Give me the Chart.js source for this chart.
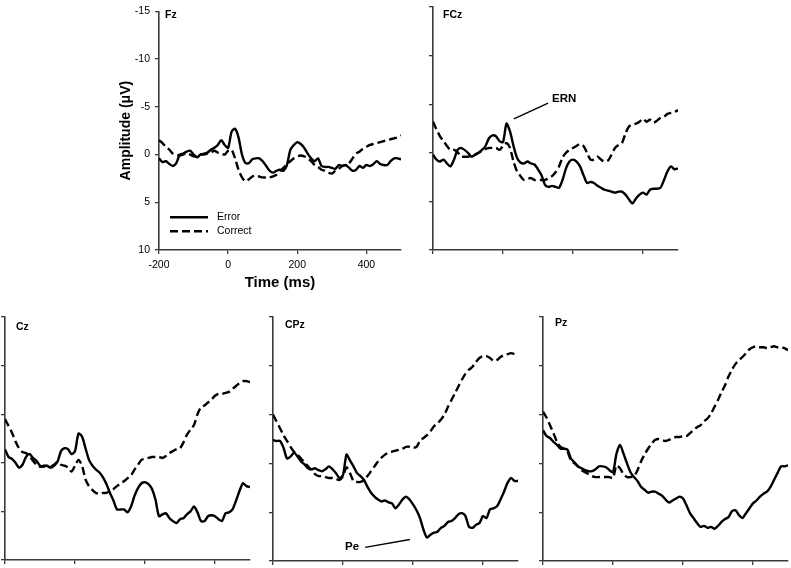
<!DOCTYPE html>
<html>
<head>
<meta charset="utf-8">
<script src="https://cdn.jsdelivr.net/npm/chart.js@4.4.1/dist/chart.umd.min.js"></script>
<style>
  html, body { margin: 0; padding: 0; background: #fff; }
  #fig { position: relative; width: 791px; height: 568px; overflow: hidden; }
  #fig canvas { position: absolute; }
</style>
</head>
<body>
<div id="fig"></div>
<script>
// ERP grand averages, -200..500 ms in 10 ms steps (amplitude in uV, negative up)
const timeMs = [];
for (let t = -200; t <= 500; t += 10) timeMs.push(t);

const xTicks = [-200, 0, 200, 400];
const yTicks = [-15, -10, -5, 0, 5, 10];
const seriesNames = ['Error', 'Correct'];

const fzError = [0.4,0.8,0.7,1.0,1.2,0.9,0,-0.1,-0.3,-0.4,
  0,0.3,0,-0.1,-0.2,-0.5,-0.7,-1.0,-1.5,-1.0,
  -0.7,-2.4,-2.7,-1.8,0,0.9,0.9,0.5,0.4,0.4,
  0.7,1.2,1.7,1.9,1.7,1.6,1.7,1.1,-0.5,-1.0,
  -1.3,-1.1,-0.7,-0.1,0.4,0.7,0.4,1.2,1.3,1.3,
  1.4,1.5,1.1,1.2,1.1,1.4,1.7,1.6,1.2,1.4,
  1.1,1.2,1.0,0.7,1.0,1.1,1.1,0.7,0.4,0.4,0.5];
const fzCorrect = [-1.5,-1.2,-0.8,-0.5,-0.1,0,0.1,0,-0.1,0,
  0.2,0.1,0,0,-0.1,-0.2,-0.4,-0.2,-0.1,0,
  -0.4,-0.5,0.4,1.6,2.4,2.8,2.6,2.3,2.2,2.3,
  2.4,2.4,2.4,2.3,2.1,1.7,1.4,1.0,0.7,0.4,
  0.2,0.1,0.2,0.4,0.7,1.1,1.3,1.6,1.7,1.9,
  2.0,1.7,1.5,1.2,1.1,0.9,0.4,-0.1,-0.3,-0.6,
  -0.8,-1.0,-1.1,-1.2,-1.3,-1.4,-1.5,-1.6,-1.7,-1.8,-2.0];

const fczError = [0.2,0.7,0.9,0.7,1.1,1.4,0.7,-0.3,-0.5,-0.3,
  0,0.4,0.2,0,-0.3,-0.7,-1.5,-1.8,-1.7,-1.2,
  -1.1,-3.0,-2.2,-0.7,0.5,1.0,1.1,0.9,1.1,1.2,
  1.7,2.3,3.3,3.5,3.4,3.5,3.6,2.8,1.6,0.9,
  0.7,0.9,1.4,2.3,3.1,3.0,3.1,3.4,3.6,3.8,
  3.9,4.0,4.1,4.0,4.0,4.3,4.8,5.2,4.7,4.3,
  4.1,4.3,3.8,3.7,3.7,3.6,2.8,1.9,1.4,1.7,1.6];
const fczCorrect = [-3.2,-2.4,-1.7,-1.2,-0.7,-0.3,-0.3,-0.1,0.4,0.4,
  0.4,0.3,0.2,0,-0.2,-0.4,-0.5,-0.5,-0.5,-0.3,
  -0.7,-1.0,-0.5,0.9,1.9,2.4,2.8,2.7,2.6,2.8,
  2.8,2.8,2.8,2.6,2.4,2.0,1.4,0.5,0,-0.3,
  -0.5,-0.7,-0.9,-0.7,0,0.7,0.7,0.4,0.7,0.9,
  0.8,0.2,-0.5,-0.8,-1.0,-2.0,-2.7,-2.9,-3.0,-3.2,
  -3.5,-3.2,-3.4,-3.1,-3.3,-3.6,-3.7,-4.0,-4.1,-4.2,-4.4];

const czError = [-1.4,-0.6,-0.4,0,0.5,0.2,-0.6,-0.9,-0.5,-0.2,
  0.3,0.4,0.3,0.5,0.3,-0.1,-1.2,-1.5,-1.4,-0.9,
  -1.2,-3.0,-2.7,-1.5,-0.3,0.3,0.7,1.0,1.5,2.2,
  3.1,3.9,4.8,4.8,4.8,5.1,4.5,3.4,2.6,2.1,
  2.0,2.2,2.7,3.8,5.5,5.3,5.2,5.7,6.0,6.2,
  5.8,5.7,5.3,5.0,4.5,5.1,6.0,6.0,5.5,5.4,
  5.5,5.8,6.0,5.2,5.1,4.8,3.9,2.9,2.1,2.4,2.5];
const czCorrect = [-4.5,-3.8,-3.1,-2.2,-1.5,-1.1,-1.0,-0.7,-0.2,0.2,
  0.4,0.3,0.3,0.4,0.2,-0.1,0.2,0.3,0.5,0.9,
  0.3,-0.3,0.3,1.7,2.4,2.8,3.1,3.2,3.1,3.1,
  2.9,2.7,2.4,2.1,1.9,1.6,1.3,0.7,0.2,-0.3,
  -0.4,-0.5,-0.6,-0.6,-0.6,-0.5,-0.7,-1.0,-1.2,-1.4,
  -1.5,-2.1,-2.9,-3.4,-3.9,-5.0,-5.7,-5.9,-6.2,-6.5,
  -6.9,-7.1,-7.1,-7.2,-7.3,-7.6,-7.9,-8.2,-8.4,-8.4,-8.3];

const cpzError = [-2.4,-2.3,-2.3,-1.6,-0.5,-0.7,-1.1,-0.7,-0.2,0.1,
  0.5,0.6,0.5,0.7,0.8,0.6,0.3,0.6,1.0,1.5,
  1.2,-0.9,-0.3,0.3,1.0,1.3,1.7,2.4,3.0,3.4,
  3.7,3.9,3.8,4.0,4.1,4.6,4.2,3.7,3.4,3.7,
  4.2,4.8,5.6,6.8,7.6,7.3,7.1,7.0,6.6,6.4,
  6.0,5.9,5.6,5.2,5.1,5.4,6.5,6.6,6.3,6.1,
  5.4,5.6,4.7,4.6,4.4,3.7,2.9,2.0,1.5,1.8,1.8];
const cpzCorrect = [-5.0,-4.3,-3.6,-2.9,-2.3,-1.7,-1.2,-0.9,-0.5,-0.1,
  0.3,0.7,1.1,1.3,1.3,1.4,1.5,1.5,1.6,1.7,
  1.3,0.4,1.0,1.8,1.9,1.9,1.7,1.3,0.8,0.3,
  -0.2,-0.6,-0.9,-1.1,-1.2,-1.3,-1.4,-1.5,-1.7,-1.7,
  -1.6,-1.7,-2.3,-2.6,-2.9,-3.3,-3.8,-4.1,-4.5,-5.0,
  -5.8,-6.5,-7.2,-7.9,-8.6,-9.2,-9.6,-9.9,-10.4,-10.8,
  -11.0,-11.0,-10.8,-10.5,-10.6,-10.9,-11.1,-11.2,-11.3,-11.2,-11.0];

const pzError = [-3.4,-2.8,-2.6,-2.2,-1.9,-1.5,-1.5,-1.4,-0.5,-0.1,
  0.3,0.5,0.7,0.8,0.8,0.6,0.3,0.3,0.4,0.7,
  0.9,-1.0,-1.9,-1.0,0,0.9,1.4,1.8,2.4,2.7,
  3.0,2.9,2.9,3.1,3.3,3.7,4.0,3.8,3.6,3.4,
  3.6,4.3,5.1,5.6,6.1,6.5,6.4,6.6,6.5,6.7,
  6.4,6.0,5.7,5.5,4.9,4.8,5.3,5.6,5.1,4.6,
  4.1,3.8,3.4,3.1,2.9,2.4,1.7,1.0,0.3,0.3,0.2];
const pzCorrect = [-5.3,-4.7,-3.9,-3.1,-2.2,-1.7,-1.5,-1.2,-0.3,0,
  0.3,0.7,0.9,1.1,1.3,1.4,1.4,1.4,1.4,1.4,
  1.5,0.2,0.5,1.1,1.4,1.4,1.3,0.7,-0.2,-0.9,
  -1.5,-2.0,-2.4,-2.5,-2.4,-2.3,-2.4,-2.6,-2.7,-2.7,
  -2.8,-2.8,-3.1,-3.4,-3.7,-3.9,-4.3,-4.6,-5.1,-5.8,
  -6.5,-7.3,-8.0,-8.9,-9.6,-10.2,-10.6,-10.9,-11.3,-11.7,
  -11.9,-12.0,-11.9,-11.9,-11.8,-11.9,-12.0,-11.9,-11.9,-11.8,-11.6];

const FONT = '"Liberation Sans", Arial, Helvetica, sans-serif';
const AXIS = '#3a3a3a';

// labels, legend and pointer lines drawn on top of each panel
const erpDecor = {
  id: 'erpDecor',
  afterDraw(chart, args, opts) {
    const { ctx, chartArea, scales } = chart;
    ctx.save();
    ctx.fillStyle = '#000';
    ctx.strokeStyle = '#000';
    ctx.textBaseline = 'middle';
    ctx.font = 'bold 10.5px ' + FONT;
    ctx.fillText(opts.name, chartArea.left + opts.nameDx, chartArea.top + opts.nameDy);

    if (opts.note) {
      const n = opts.note;
      ctx.lineWidth = 1.4;
      ctx.beginPath();
      ctx.moveTo(scales.x.getPixelForValue(n.from[0]), scales.y.getPixelForValue(n.from[1]));
      ctx.lineTo(scales.x.getPixelForValue(n.to[0]), scales.y.getPixelForValue(n.to[1]));
      ctx.stroke();
      ctx.font = 'bold 11.5px ' + FONT;
      ctx.fillText(n.text, scales.x.getPixelForValue(n.at[0]), scales.y.getPixelForValue(n.at[1]));
    }

    if (opts.legend) {
      ctx.font = '10.5px ' + FONT;
      chart.data.datasets.forEach((ds, i) => {
        const y = chartArea.top + opts.legend.dy + i * 14;
        const x = chartArea.left + opts.legend.dx;
        ctx.lineWidth = ds.borderWidth;
        ctx.setLineDash(ds.borderDash || []);
        ctx.beginPath();
        ctx.moveTo(x, y);
        ctx.lineTo(x + 38, y);
        ctx.stroke();
        ctx.setLineDash([]);
        ctx.fillText(ds.label, x + 47, y);
      });
    }
    ctx.restore();
  }
};

function makePanel(p) {
  const full = !!p.labels;
  const yW = full ? 45 : 6;
  const xH = full ? 46 : 6;
  const pad = { top: full ? 7 : 3, right: 3, bottom: 0, left: 0 };
  const left = p.area.l - yW;
  const top = p.area.t - pad.top;
  const width = p.area.r + pad.right - left;
  const height = p.area.b + xH - top;

  const canvas = document.createElement('canvas');
  canvas.width = width;
  canvas.height = height;
  canvas.style.left = left + 'px';
  canvas.style.top = top + 'px';
  canvas.style.width = width + 'px';
  canvas.style.height = height + 'px';
  document.getElementById('fig').appendChild(canvas);

  const toPoints = vals => timeMs.map((t, i) => ({ x: t, y: vals[i] }));

  return new Chart(canvas, {
    type: 'line',
    data: {
      datasets: [
        { label: seriesNames[0], data: toPoints(p.error), borderColor: '#000',
          borderWidth: 2.4, pointRadius: 0, tension: 0.25, fill: false },
        { label: seriesNames[1], data: toPoints(p.correct), borderColor: '#000',
          borderWidth: 2.4, borderDash: [8, 4], pointRadius: 0, tension: 0.25, fill: false }
      ]
    },
    options: {
      responsive: false,
      animation: false,
      events: [],
      layout: { padding: pad },
      plugins: {
        legend: { display: false },
        tooltip: { enabled: false },
        erpDecor: { name: p.name, nameDx: p.nameDx, nameDy: p.nameDy, note: p.note, legend: p.legend }
      },
      scales: {
        x: {
          type: 'linear', min: -200, max: 500,
          afterBuildTicks: s => { s.ticks = xTicks.map(v => ({ value: v })); },
          afterFit: s => { s.height = xH; },
          border: { display: true, color: AXIS, width: 1.6 },
          grid: { drawOnChartArea: false, drawTicks: true, tickLength: 4, color: AXIS, lineWidth: 1.3 },
          ticks: { display: full, padding: 5, color: '#000', font: { family: FONT, size: 10.5 } },
          title: { display: full, text: 'Time (ms)', color: '#000', font: { family: FONT, size: 15, weight: 'bold' } }
        },
        y: {
          type: 'linear', min: -15, max: 10, reverse: true,
          afterBuildTicks: s => { s.ticks = yTicks.map(v => ({ value: v })); },
          afterFit: s => { s.width = yW; },
          border: { display: true, color: AXIS, width: 1.6 },
          grid: { drawOnChartArea: false, drawTicks: true, tickLength: 4, color: AXIS, lineWidth: 1.3 },
          ticks: { display: full, padding: 5, color: '#000', font: { family: FONT, size: 10.5 } },
          title: { display: full, text: 'Amplitude (\u03bcV)', color: '#000', font: { family: FONT, size: 14, weight: 'bold' } }
        }
      }
    },
    plugins: [erpDecor]
  });
}

const panels = [
  { name: 'Fz', error: fzError, correct: fzCorrect, labels: true,
    area: { l: 159, t: 7, r: 401, b: 250 }, nameDx: 6, nameDy: 4,
    legend: { dx: 11, dy: 206 } },
  { name: 'FCz', error: fczError, correct: fczCorrect,
    area: { l: 433, t: 7, r: 678, b: 250 }, nameDx: 10, nameDy: 8,
    note: { text: 'ERN', from: [31, -3.5], to: [129, -5.1], at: [140, -5.6] } },
  { name: 'Cz', error: czError, correct: czCorrect,
    area: { l: 5, t: 317, r: 250, b: 560 }, nameDx: 11, nameDy: 10 },
  { name: 'CPz', error: cpzError, correct: cpzCorrect,
    area: { l: 273, t: 317, r: 518, b: 561 }, nameDx: 12, nameDy: 8,
    note: { text: 'Pe', from: [63, 8.6], to: [191, 7.8], at: [6, 8.5] } },
  { name: 'Pz', error: pzError, correct: pzCorrect,
    area: { l: 543, t: 317, r: 788, b: 561 }, nameDx: 12, nameDy: 6 }
];

panels.forEach(makePanel);
</script>
</body>
</html>
